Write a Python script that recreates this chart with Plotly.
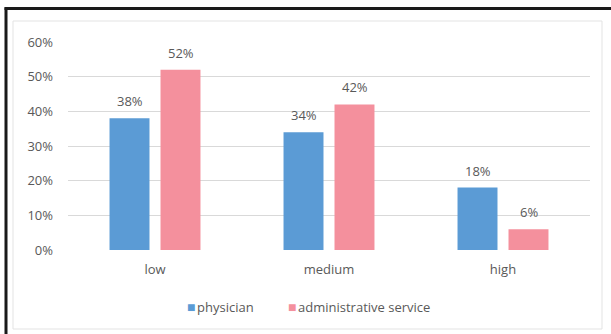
import plotly.graph_objects as go

categories = ["low", "medium", "high"]
physician = [0.38, 0.34, 0.18]
admin = [0.52, 0.42, 0.06]
series_names = ["physician", "administrative service"]
colors = ["#5B9BD5", "#F4909D"]
yticks = [0, 0.1, 0.2, 0.3, 0.4, 0.5, 0.6]

W, H = 611, 334
L, R, T, B = 68, 21, 42, 84
pw, ph = W - L - R, H - T - B
FS = 13
FC = "#595959"

def px(x):
    return (x - L) / pw

def py(y):
    return (H - B - y) / ph

fig = go.Figure()
for name, vals, col in zip(series_names, [physician, admin], colors):
    fig.add_trace(go.Bar(x=categories, y=vals, name=name, showlegend=False,
                         marker=dict(color=col, line=dict(width=0))))

annotations = []
for shift, vals in zip([-25.5, 25.5], [physician, admin]):
    for c, v in zip(categories, vals):
        annotations.append(dict(x=c, y=v, xref="x", yref="y", text=f"{round(v*100)}%",
                                showarrow=False, xshift=shift, yanchor="bottom", yshift=6,
                                font=dict(size=FS, color=FC, family="Open Sans")))

# legend built as text entries
legend_x = [185, 286]
for lx, name, col in zip(legend_x, series_names, colors):
    annotations.append(dict(x=px(lx), y=py(306), xref="paper", yref="paper", xanchor="left",
                            yanchor="middle", showarrow=False,
                            text=f"<span style='color:{col};font-size:14px'>■</span><span style='font-size:6px'> </span>{name}",
                            font=dict(size=FS, color=FC, family="Open Sans")))

shapes = [
    dict(type="rect", xref="paper", yref="paper", x0=px(13), x1=px(602), y0=py(329), y1=py(21),
         line=dict(color="#E3E3E3", width=1), layer="below"),
    dict(type="line", xref="paper", yref="paper", x0=px(6), x1=px(6), y0=py(340), y1=py(7.5),
         line=dict(color="#1a1a1a", width=3)),
    dict(type="line", xref="paper", yref="paper", x0=px(4.5), x1=px(620), y0=py(8.5), y1=py(8.5),
         line=dict(color="#1a1a1a", width=3)),
]

fig.update_layout(
    width=W, height=H,
    margin=dict(l=L, r=R, t=T, b=B),
    paper_bgcolor="white", plot_bgcolor="white",
    barmode="group", bargap=0.414, bargroupgap=0.216,
    font=dict(family="Open Sans", size=FS, color=FC),
    showlegend=False,
    annotations=annotations,
    shapes=shapes,
)
fig.update_yaxes(range=[0, 0.6], tickvals=yticks, tickformat=".0%", showgrid=True,
                 gridcolor="#D9D9D9", gridwidth=1, zeroline=False, showline=False,
                 ticks="", ticklabelstandoff=14, tickfont=dict(size=FS, color=FC))
fig.update_xaxes(showgrid=False, showline=False, zeroline=False, ticks="",
                 ticklabelstandoff=10, tickfont=dict(size=FS, color=FC))

fig.write_html("out.html")
